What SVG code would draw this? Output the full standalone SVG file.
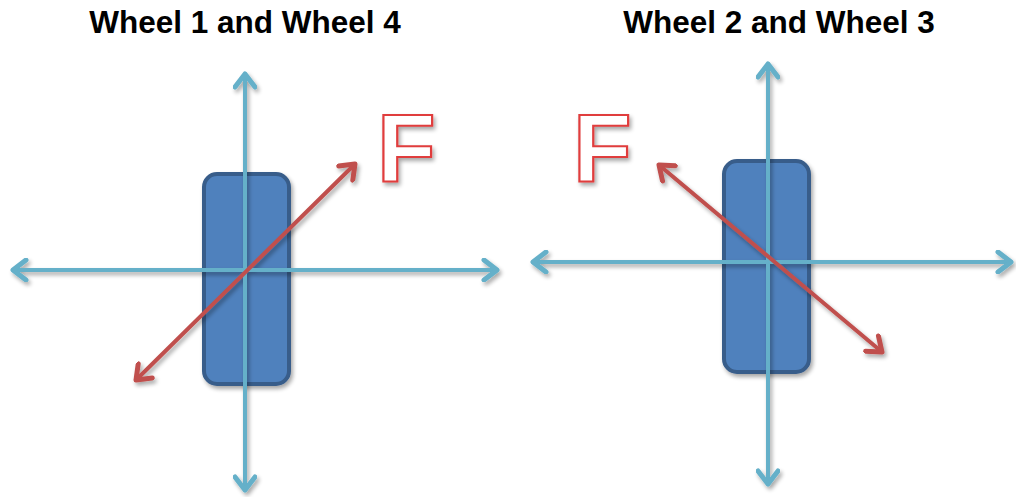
<svg xmlns="http://www.w3.org/2000/svg" width="1016" height="497" viewBox="0 0 1016 497">
<style>
.title{font-family:"Liberation Sans",Arial,sans-serif;font-weight:bold;font-size:31.5px;fill:#000;text-anchor:middle}
.axis{stroke:#65b0c9;stroke-width:4;fill:none;stroke-linecap:round}
.force{stroke:#c0504d;stroke-width:4;fill:none;stroke-linecap:round}
.wheel{fill:#4f81bd;stroke:#385d8a;stroke-width:4}
.flabel{font-family:"Liberation Sans",Arial,sans-serif;font-weight:bold;font-size:96px;fill:#fff;stroke:#e03c3c;stroke-width:2.2}
</style>
<defs>
<filter id="sh" x="-20%" y="-20%" width="140%" height="140%">
<feGaussianBlur in="SourceAlpha" stdDeviation="2"/>
<feOffset dx="2" dy="3" result="b"/>
<feComponentTransfer><feFuncA type="linear" slope="0.35"/></feComponentTransfer>
<feMerge><feMergeNode/><feMergeNode in="SourceGraphic"/></feMerge>
</filter>
<marker id="ab" markerUnits="userSpaceOnUse" viewBox="-16 -12 20 24" markerWidth="20" markerHeight="24" refX="0" refY="0" orient="auto-start-reverse">
<path d="M-13,-10 L0,0 L-13,10" fill="none" stroke="#65b0c9" stroke-width="5" stroke-linecap="round" stroke-linejoin="round"/>
</marker>
<marker id="ar" markerUnits="userSpaceOnUse" viewBox="-16 -12 20 24" markerWidth="20" markerHeight="24" refX="0" refY="0" orient="auto-start-reverse">
<path d="M-13,-10 L0,0 L-13,10" fill="none" stroke="#c0504d" stroke-width="5" stroke-linecap="round" stroke-linejoin="round"/>
</marker>
</defs>
<text class="title" x="245" y="33">Wheel 1 and Wheel 4</text>
<text class="title" x="779" y="33">Wheel 2 and Wheel 3</text>
<g id="wheel14" filter="url(#sh)">
<rect class="wheel" x="204" y="174" width="85" height="210" rx="13"/>
</g>
<g id="wheel23" filter="url(#sh)">
<rect class="wheel" x="724" y="161" width="85" height="211" rx="13"/>
</g>
<g id="connectors" filter="url(#sh)">
<line class="axis" x1="245" y1="74" x2="245" y2="490" marker-start="url(#ab)" marker-end="url(#ab)"/>
<line class="axis" x1="13" y1="270" x2="497" y2="270" marker-start="url(#ab)" marker-end="url(#ab)"/>
<line class="force" x1="136" y1="380" x2="355" y2="164" marker-start="url(#ar)" marker-end="url(#ar)"/>
<line class="axis" x1="768" y1="64" x2="768" y2="484" marker-start="url(#ab)" marker-end="url(#ab)"/>
<line class="axis" x1="533" y1="262" x2="1011" y2="262" marker-start="url(#ab)" marker-end="url(#ab)"/>
<line class="force" x1="659" y1="165" x2="882" y2="352" marker-start="url(#ar)" marker-end="url(#ar)"/>
</g>
<g id="F1" filter="url(#sh)">
<text class="flabel" x="377" y="181">F</text>
</g>
<g id="F2" filter="url(#sh)">
<text class="flabel" x="573" y="181">F</text>
</g>
</svg>
